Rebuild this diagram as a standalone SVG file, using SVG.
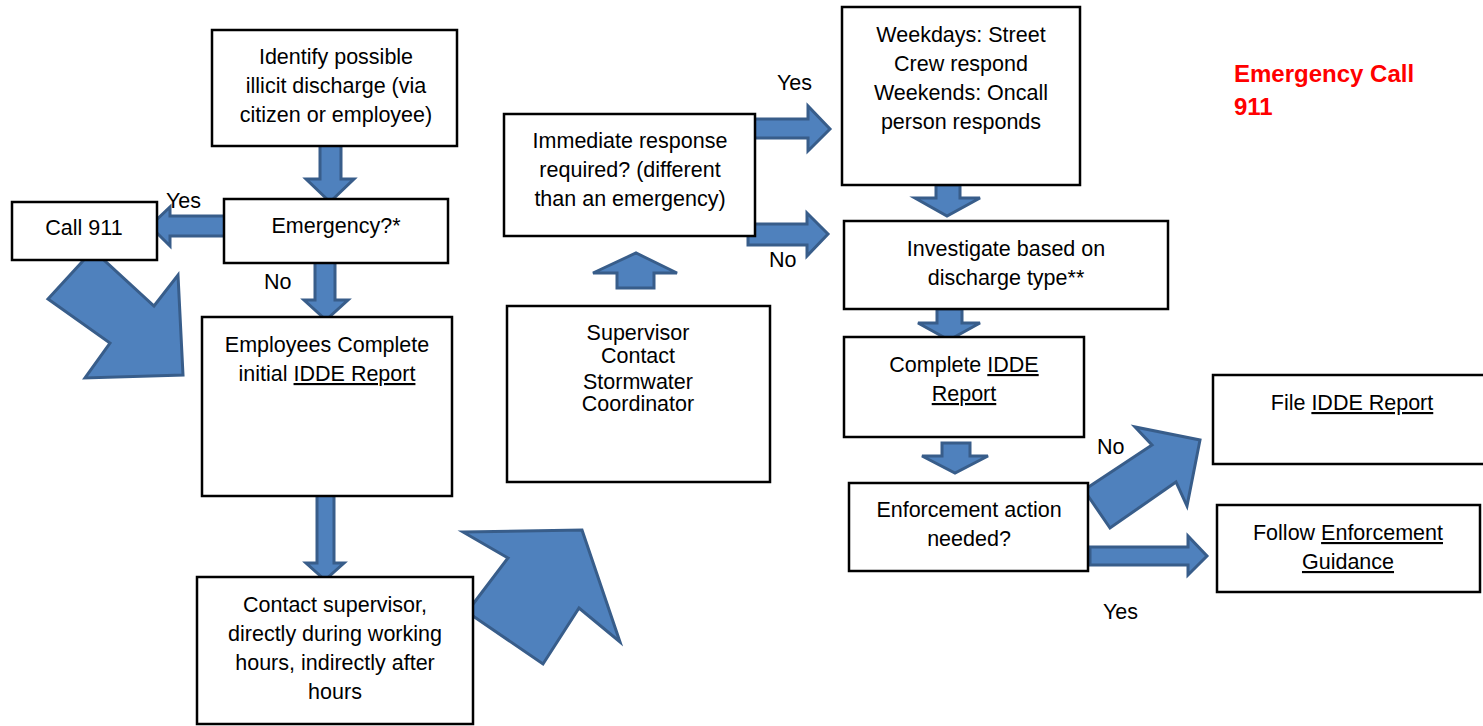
<svg xmlns="http://www.w3.org/2000/svg" width="1483" height="726" viewBox="0 0 1483 726">
<style>
.box{fill:#fff;stroke:#000;stroke-width:2.5}
.arr{fill:#4F81BD;stroke:#385D8A;stroke-width:3;stroke-linejoin:miter}
text{font-family:"Liberation Sans",Arial,sans-serif;font-size:21.5px;fill:#000}
.c{text-anchor:middle}
.u{text-decoration:underline}
.red{fill:#FF0000;font-weight:bold;font-size:24px}
</style>
<rect width="1483" height="726" fill="#fff"/>
<g id="connectors">
<polygon class="arr" points="320,140 341,140 341,179 354,179 330,202 306,179 320,179"/>
<polygon class="arr" points="231,216 170,216 170,207 150,226 170,246 170,236 231,236"/>
<polygon class="arr" points="315,256 335,256 335,300 348,300 326,320 304,300 315,300"/>
<polygon class="arr" points="317,486 334,486 334,563 344,563 325,580 306,563 317,563"/>
<polygon class="arr" points="48,299 93,250 154,306 178,275 183,375 85,378 110,343"/>
<polygon class="arr" points="463,532 582,530 620,642 579,608 543,664 467,612 508,558"/>
<polygon class="arr" points="617,288 654,288 654,273 677,273 636,253 593,273 617,273"/>
<polygon class="arr" points="750,119 808,119 808,106 830,129 808,151 808,138 750,138"/>
<polygon class="arr" points="748,224 807,224 807,213 828,234 807,256 807,245 748,245"/>
<polygon class="arr" points="936,185 960,185 960,198 980,198 947,216 915,198 936,198"/>
<polygon class="arr" points="937,309 962,309 962,323 980,323 949,340 918,323 937,323"/>
<polygon class="arr" points="942,443 970,443 970,456 988,456 955,473 922,456 942,456"/>
<polygon class="arr" points="1084,490 1152,445 1135,427 1200,440 1187,506 1176,482 1110,528"/>
<polygon class="arr" points="1090,547 1188,547 1188,536 1207,556 1188,575 1188,565 1090,565"/>
<text x="166" y="208">Yes</text>
<text x="264" y="289">No</text>
<text x="777" y="90">Yes</text>
<text x="769" y="267">No</text>
<text x="1097" y="454">No</text>
<text x="1103" y="619">Yes</text>
</g>
<g id="n-identify">
<rect class="box" x="212" y="30" width="245" height="116"/>
<text class="c" x="336" y="64">Identify possible</text>
<text class="c" x="336" y="93">illicit discharge (via</text>
<text class="c" x="336" y="122">citizen or employee)</text>
</g>
<g id="n-emergency">
<rect class="box" x="224" y="199" width="224" height="64"/>
<text class="c" x="336" y="233">Emergency?*</text>
</g>
<g id="n-call911">
<rect class="box" x="12" y="202" width="145" height="58"/>
<text class="c" x="84" y="235">Call 911</text>
</g>
<g id="n-employees">
<rect class="box" x="202" y="317" width="250" height="179"/>
<text class="c" x="327" y="352">Employees Complete</text>
<text class="c" x="327" y="381">initial <tspan class="u">IDDE Report</tspan></text>
</g>
<g id="n-contact">
<rect class="box" x="197" y="577" width="276" height="147"/>
<text class="c" x="335" y="612">Contact supervisor,</text>
<text class="c" x="335" y="641">directly during working</text>
<text class="c" x="335" y="670">hours, indirectly after</text>
<text class="c" x="335" y="699">hours</text>
</g>
<g id="n-supervisor">
<rect class="box" x="507" y="306" width="263" height="176"/>
<text class="c" x="638" y="340">Supervisor</text>
<text class="c" x="638" y="363">Contact</text>
<text class="c" x="638" y="389">Stormwater</text>
<text class="c" x="638" y="411">Coordinator</text>
</g>
<g id="n-immediate">
<rect class="box" x="504" y="114" width="251" height="122"/>
<text class="c" x="630" y="148">Immediate response</text>
<text class="c" x="630" y="177">required? (different</text>
<text class="c" x="630" y="206">than an emergency)</text>
</g>
<g id="n-weekdays">
<rect class="box" x="842" y="7" width="238" height="178"/>
<text class="c" x="961" y="42">Weekdays: Street</text>
<text class="c" x="961" y="71">Crew respond</text>
<text class="c" x="961" y="100">Weekends: Oncall</text>
<text class="c" x="961" y="129">person responds</text>
</g>
<g id="n-investigate">
<rect class="box" x="844" y="221" width="324" height="88"/>
<text class="c" x="1006" y="256">Investigate based on</text>
<text class="c" x="1006" y="285">discharge type**</text>
</g>
<g id="n-complete">
<rect class="box" x="844" y="337" width="240" height="100"/>
<text class="c" x="964" y="372">Complete <tspan class="u">IDDE</tspan></text>
<text class="c" x="964" y="401"><tspan class="u">Report</tspan></text>
</g>
<g id="n-enforcement">
<rect class="box" x="849" y="483" width="239" height="88"/>
<text class="c" x="969" y="517">Enforcement action</text>
<text class="c" x="969" y="546">needed?</text>
</g>
<g id="n-file">
<rect class="box" x="1213" y="375" width="272" height="89"/>
<text class="c" x="1352" y="410">File <tspan class="u">IDDE Report</tspan></text>
</g>
<g id="n-follow">
<rect class="box" x="1217" y="505" width="263" height="87"/>
<text class="c" x="1348" y="540">Follow <tspan class="u">Enforcement</tspan></text>
<text class="c" x="1348" y="569"><tspan class="u">Guidance</tspan></text>
</g>
<g id="n-note">
<text class="red" x="1234" y="82">Emergency Call</text>
<text class="red" x="1234" y="115">911</text>
</g>
</svg>
